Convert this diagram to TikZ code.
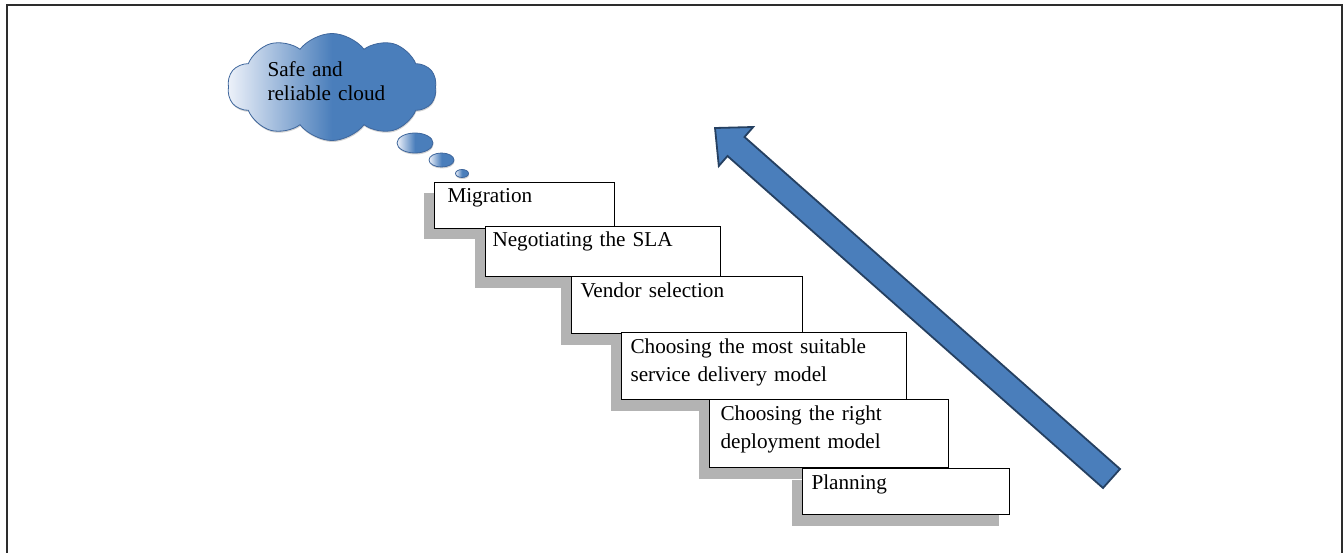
\documentclass[tikz,border=0pt]{standalone}
\usepackage{fontspec}
\setmainfont{Liberation Serif}
\usetikzlibrary{shapes.symbols,shapes.geometric,shadows}
\definecolor{stairblue}{RGB}{74,126,187}
\definecolor{arrowedge}{RGB}{37,64,97}
\definecolor{cloudlight}{RGB}{238,242,250}
\definecolor{cloudedge}{RGB}{62,102,156}
\definecolor{shadowgray}{RGB}{179,179,179}
\definecolor{framegray}{RGB}{45,45,45}
\pgfdeclarehorizontalshading{cloudfade}{100bp}{color(0bp)=(cloudlight); color(25bp)=(cloudlight); color(50bp)=(stairblue); color(100bp)=(stairblue)}
\tikzset{
  stepbox/.style={draw, line width=1pt, fill=white, anchor=north west, align=left,
    inner xsep=9pt, inner ysep=0pt, text height=20.5pt,
    font=\fontsize{21.2}{28}\selectfont,
    general shadow={shadow xshift=-11pt, shadow yshift=-11pt, fill=shadowgray}},
  thought/.style={draw=cloudedge, line width=0.8pt, shade, shading=cloudfade, inner sep=0pt,
    drop shadow={shadow xshift=0.5pt, shadow yshift=-1.5pt, opacity=0.35}}
}
\begin{document}
\begin{tikzpicture}[x=1pt,y=-1pt]
\useasboundingbox (0,0) rectangle (1343,553);
\draw[framegray, line width=2pt] (7,553) -- (7,5) -- (1342,5) -- (1342,553);
\node[thought, cloud, cloud puffs=10, cloud puff arc=105, cloud ignores aspect, minimum width=209pt, minimum height=107pt, align=left, text width=129pt, text height=14.5pt, text depth=34.5pt, font=\fontsize{21.2}{23.5}\selectfont] (goal) at (332,87) {Safe and\\reliable cloud};
\node[thought, ellipse, minimum width=36pt, minimum height=20pt] (puffa) at (415,143) {};
\node[thought, ellipse, minimum width=25pt, minimum height=14pt] (puffb) at (441.5,160) {};
\node[thought, ellipse, minimum width=13pt, minimum height=8pt] (puffc) at (462,173.5) {};
\node[stepbox, inner xsep=13pt, text width=154pt, text depth=25.5pt] (migrate) at (434,182) {Migration};
\node[stepbox, inner xsep=7pt, text width=221pt, text depth=29.5pt] (sla) at (485,226) {Negotiating the SLA};
\node[stepbox, text width=213pt, text depth=36.5pt] (vendor) at (571,276) {Vendor selection};
\node[stepbox, text width=267pt, text depth=46.5pt] (service) at (621,332) {Choosing the most suitable\\service delivery model};
\node[stepbox, inner xsep=11pt, text width=217pt, text depth=47.5pt] (deploy) at (709,399) {Choosing the right\\deployment model};
\node[stepbox, text width=189pt, text depth=25.5pt] (plan) at (802,468) {Planning};
\draw[fill=stairblue, draw=arrowedge, line width=1.8pt, line join=miter] (1120,469) -- (744.5,137) -- (753.2,127) -- (715,128) -- (718.8,166) -- (727.5,156) -- (1103,488) -- cycle;
\end{tikzpicture}
\end{document}
